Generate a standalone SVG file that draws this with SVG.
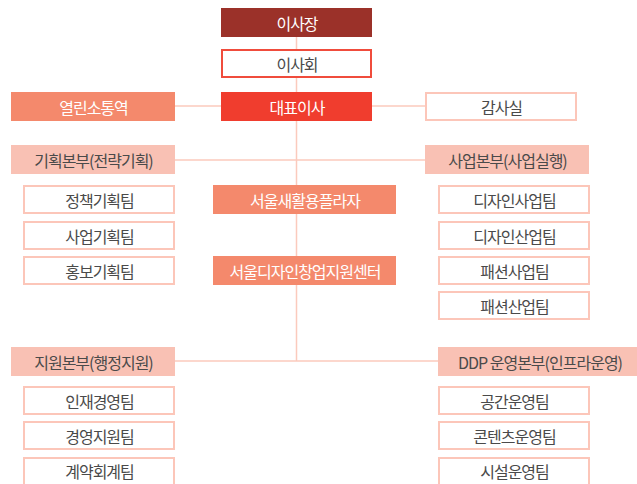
<svg xmlns="http://www.w3.org/2000/svg" width="637" height="484" viewBox="0 0 637 484">
<style>
text{font-family:"Noto Sans CJK KR","Noto Sans",sans-serif;font-size:16px;letter-spacing:-1px;text-anchor:middle;dominant-baseline:central}
.dark{fill:#9b3129}
.red{fill:#f03d2e}
.org{fill:#f4896c}
.pink{fill:#f9c1b4}
.wb{fill:#fff;stroke:#fcc6b9;stroke-width:2}
.wr{fill:#fff;stroke:#f04c3c;stroke-width:2}
.tw{fill:#fff}
.tg{fill:#4a4a4a}
.ln{stroke:#fbcabd;stroke-width:1.5;fill:none}
</style>
<g id="connectors">
<line class="ln" x1="296.5" y1="36" x2="296.5" y2="361"/>
<line class="ln" x1="175" y1="106" x2="425" y2="106"/>
<line class="ln" x1="175" y1="160" x2="425" y2="160"/>
<line class="ln" x1="175" y1="361" x2="438" y2="361"/>
</g>
<g id="n-chair"><rect class="dark" x="221" y="8" width="151" height="29"/><text class="tw" x="297" y="22.5">이사장</text></g>
<g id="n-board"><rect class="wr" x="222" y="50" width="149" height="27"/><text class="tg" x="297" y="63.5">이사회</text></g>
<g id="n-ceo"><rect class="red" x="221" y="92" width="151" height="29"/><text class="tw" x="297" y="106.5">대표이사</text></g>
<g id="n-open"><rect class="org" x="11" y="92" width="164" height="29"/><text class="tw" x="93.5" y="106.5">열린소통역</text></g>
<g id="n-audit"><rect class="wb" x="426" y="93" width="150" height="27"/><text class="tg" x="501.5" y="106.5">감사실</text></g>
<g id="n-plan"><rect class="pink" x="11" y="145" width="164" height="29"/><text class="tg" x="93.5" y="159.5">기획본부(전략기획)</text></g>
<g id="n-biz"><rect class="pink" x="425" y="145" width="164" height="29"/><text class="tg" x="507.5" y="159.5">사업본부(사업실행)</text></g>
<g id="n-p1"><rect class="wb" x="24" y="186" width="150" height="27"/><text class="tg" x="99.5" y="199.5">정책기획팀</text></g>
<g id="n-p2"><rect class="wb" x="24" y="222" width="150" height="27"/><text class="tg" x="99.5" y="235.5">사업기획팀</text></g>
<g id="n-p3"><rect class="wb" x="24" y="257" width="150" height="27"/><text class="tg" x="99.5" y="270.5">홍보기획팀</text></g>
<g id="n-plaza"><rect class="org" x="213" y="185" width="183" height="29"/><text class="tw" x="305" y="199.5">서울새활용플라자</text></g>
<g id="n-center"><rect class="org" x="213" y="256" width="183" height="29"/><text class="tw" x="305" y="270.5">서울디자인창업지원센터</text></g>
<g id="n-b1"><rect class="wb" x="439" y="186" width="150" height="27"/><text class="tg" x="514.5" y="199.5">디자인사업팀</text></g>
<g id="n-b2"><rect class="wb" x="439" y="222" width="150" height="27"/><text class="tg" x="514.5" y="235.5">디자인산업팀</text></g>
<g id="n-b3"><rect class="wb" x="439" y="257" width="150" height="27"/><text class="tg" x="514.5" y="270.5">패션사업팀</text></g>
<g id="n-b4"><rect class="wb" x="439" y="292" width="150" height="27"/><text class="tg" x="514.5" y="305.5">패션산업팀</text></g>
<g id="n-sup"><rect class="pink" x="11" y="347" width="164" height="29"/><text class="tg" x="93.5" y="361.5">지원본부(행정지원)</text></g>
<g id="n-ddp"><rect class="pink" x="438" y="347" width="199" height="29"/><text class="tg" x="540" y="361.5">DDP 운영본부(인프라운영)</text></g>
<g id="n-s1"><rect class="wb" x="24" y="387" width="150" height="27"/><text class="tg" x="99.5" y="400.5">인재경영팀</text></g>
<g id="n-s2"><rect class="wb" x="24" y="422" width="150" height="27"/><text class="tg" x="99.5" y="435.5">경영지원팀</text></g>
<g id="n-s3"><rect class="wb" x="24" y="458" width="150" height="28"/><text class="tg" x="99.5" y="471">계약회계팀</text></g>
<g id="n-d1"><rect class="wb" x="439" y="387" width="150" height="27"/><text class="tg" x="514.5" y="400.5">공간운영팀</text></g>
<g id="n-d2"><rect class="wb" x="439" y="422" width="150" height="27"/><text class="tg" x="514.5" y="435.5">콘텐츠운영팀</text></g>
<g id="n-d3"><rect class="wb" x="439" y="458" width="150" height="28"/><text class="tg" x="514.5" y="471">시설운영팀</text></g>
</svg>
